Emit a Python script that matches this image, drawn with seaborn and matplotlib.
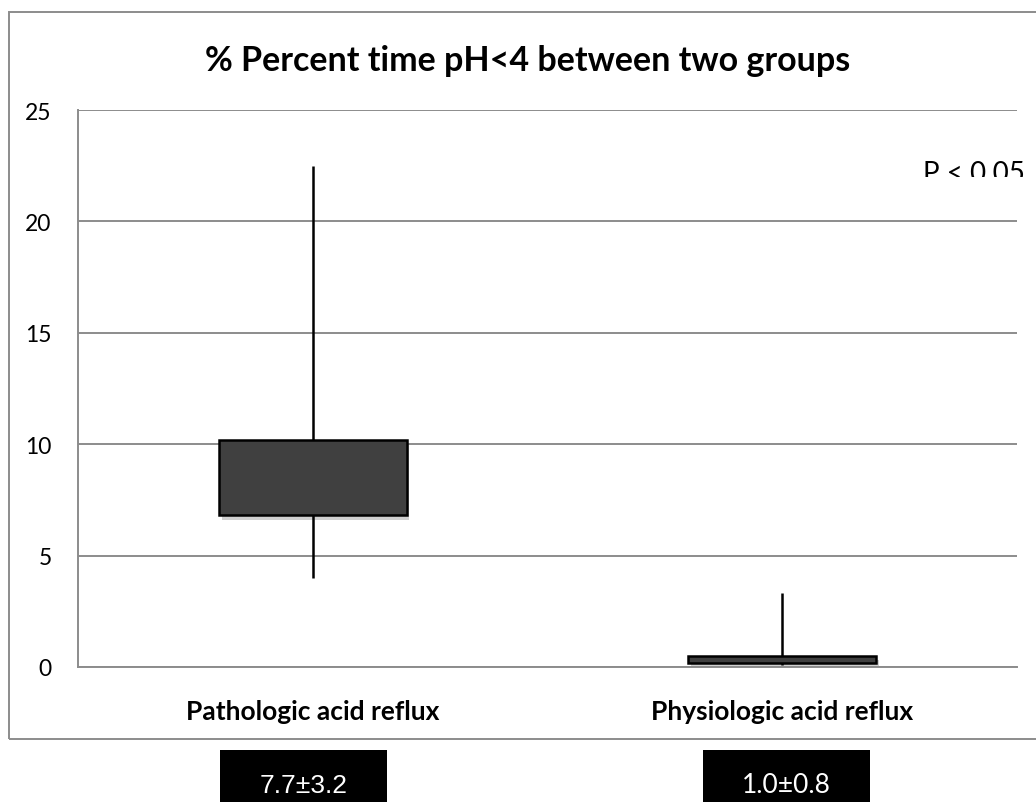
import numpy as np
import pandas as pd
import matplotlib
matplotlib.use("Agg")
import matplotlib.pyplot as plt
import seaborn as sns
from matplotlib.patches import Rectangle
from matplotlib.transforms import Bbox
import matplotlib.patheffects as pe

# ---- data ----
categories = ["Pathologic acid reflux", "Physiologic acid reflux"]
whisker_low = [4.0, 0.1]
q1 = [6.8, 0.2]
median = [8.5, 0.35]
q3 = [10.2, 0.5]
whisker_high = [22.5, 3.3]
summary_labels = ["7.7\u00b13.2", "1.0\u00b10.8"]
y_ticks = [0, 5, 10, 15, 20, 25]
title = "% Percent time pH<4 between two groups"
p_text = "P < 0.05"

rows = []
for i, c in enumerate(categories):
    for v in (whisker_low[i], q1[i], median[i], q3[i], whisker_high[i]):
        rows.append({"group": c, "value": v})
df = pd.DataFrame(rows)

sns.set_theme(style="white")
plt.rcParams["font.family"] = ["Lato", "DejaVu Sans"]

W, H = 1036, 803
fig = plt.figure(figsize=(W / 100, H / 100), dpi=100)
ax = fig.add_axes([78 / W, 1 - 668 / H, (1017 - 78) / W, (668 - 111) / H])

grid_c = "#8c8c8c"
ax.set_axisbelow(True)
ax.yaxis.grid(True, color=grid_c, linewidth=1.4)

sns.boxplot(data=df, x="group", y="value", order=categories, ax=ax,
            whis=(0, 100), width=0.4, color="#404040", saturation=1,
            linecolor="black", linewidth=1.8, showcaps=False, showfliers=False,
            medianprops={"visible": False},
            whiskerprops={"linewidth": 1.8, "color": "black"})

for p in ax.patches:
    p.set_path_effects([pe.SimplePatchShadow(offset=(2, -3), alpha=0.3, shadow_rgbFace="#666666"),
                        pe.Normal()])

ax.set_xlim(-0.5, 1.5)
ax.set_ylim(0, 25)
ax.set_yticks(y_ticks)
ax.set_yticklabels([str(t) for t in y_ticks], fontsize=16.5, color="black")
ax.tick_params(axis="y", length=0, pad=19)
ax.tick_params(axis="x", length=0, pad=23)
for lbl in ax.get_xticklabels():
    lbl.set_fontweight("bold")
    lbl.set_fontsize(19)
    lbl.set_color("black")
ax.set_xlabel("")
ax.set_ylabel("")

for s in ("top", "right"):
    ax.spines[s].set_visible(False)
for s in ("left", "bottom"):
    ax.spines[s].set_color(grid_c)
    ax.spines[s].set_linewidth(1.4)

# outer chart frame
fig.patches.append(Rectangle((9 / W, 1 - 740 / H), 1.2, (740 - 13) / H,
                             transform=fig.transFigure, fill=False,
                             edgecolor=grid_c, linewidth=1.4))

fig.text(528 / W, 1 - 61 / H, title, ha="center", va="center",
         fontsize=24.5, fontweight="bold", color="black")

# clipped P value text (only its upper part is visible in the reference)
pt = fig.text(1025 / W, 1 - 182 / H, p_text, ha="right", va="baseline",
              fontsize=20, fontweight="normal", color="black")
pt.set_clip_box(Bbox.from_extents(0, H - 178, W, H))
pt.set_clip_on(True)

# summary boxes below
box_x = [(220, 387), (703, 870)]
fonts = [dict(family=["Liberation Sans", "DejaVu Sans"], fontweight="normal", fontsize=19),
         dict(family=["Lato", "DejaVu Sans"], fontweight="normal", fontsize=19)]
for (x0, x1), lab, f in zip(box_x, summary_labels, fonts):
    fig.patches.append(Rectangle((x0 / W, 0), (x1 - x0) / W, (803 - 751) / H,
                                 transform=fig.transFigure, facecolor="black",
                                 edgecolor="none"))
    fig.text((x0 + x1) / 2 / W, 1 - 786 / H, lab, ha="center", va="center",
             color="white", **f)

fig.savefig("out.png", dpi=100, facecolor="white")
